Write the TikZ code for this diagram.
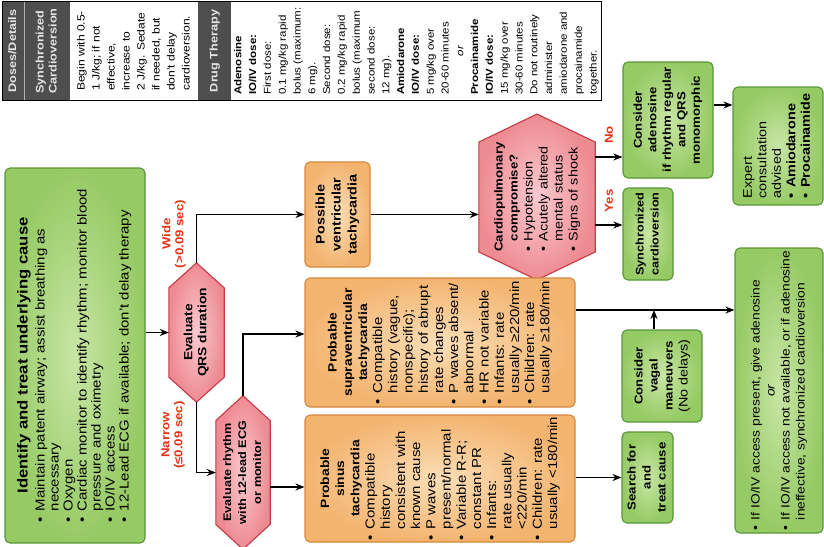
\documentclass[tikz,border=0pt]{standalone}
\usepackage{fontspec}
\setmainfont{Liberation Sans}[FakeStretch=1.15]
\usepackage{graphicx}
\usetikzlibrary{arrows.meta,calc,backgrounds}

\definecolor{gfill}{RGB}{150,202,100}
\definecolor{glight}{RGB}{200,230,165}
\definecolor{gdraw}{RGB}{88,150,55}
\definecolor{ofill}{RGB}{243,180,112}
\definecolor{olight}{RGB}{251,222,182}
\definecolor{odraw}{RGB}{214,135,58}
\definecolor{pfill}{RGB}{238,138,146}
\definecolor{plight}{RGB}{250,202,206}
\definecolor{pdraw}{RGB}{196,58,70}
\definecolor{lred}{RGB}{232,48,20}
\definecolor{hdark}{RGB}{78,78,78}

% font size shortcut
\newcommand\fsz[2]{\fontsize{#1}{#2}\selectfont}
% text turned to read upwards: font, column spec, rows
\newcommand\rtx[3]{\rotatebox{90}{#1\begin{tabular}{@{}#2@{}}#3\end{tabular}}}
\newcommand\tbul{\textbullet\hspace{0.45em}}
\newcommand\tind{\hphantom{\textbullet\hspace{0.45em}}}
% hexagon outline round a text node: node name, tip depth
\newcommand\hexround[2]{%
  \coordinate (#1T) at ($(#1.north)+(0,-#2)$);
  \coordinate (#1B) at ($(#1.south)+(0,#2)$);
  \begin{scope}[on background layer]
    \path[hexpath] (#1.north west) -- (#1T) -- (#1.north east)
      -- (#1.south east) -- (#1B) -- (#1.south west) -- cycle;
  \end{scope}}

\begin{document}
\begin{tikzpicture}[x=1pt,y=-1pt,
  box/.style={rounded corners=5pt, line width=1.1pt, inner sep=0pt},
  gbox/.style={box, draw=gdraw, inner color=glight, outer color=gfill},
  obox/.style={box, draw=odraw, inner color=olight, outer color=ofill},
  hexpath/.style={draw=pdraw, line width=1.1pt, inner color=plight, outer color=pfill},
  hexnode/.style={inner sep=0pt},
  sz/.style 2 args={minimum width=#1, minimum height=#2},
  arr/.style={line width=1.4pt, -{Stealth[length=9pt,width=7pt]}},
  lbl/.style={text=lred, font=\fsz{11.5}{13}\bfseries, align=center, rotate=90, inner sep=0pt},
  hcell/.style={fill=hdark, inner sep=0pt, text=white!90!black},
  ccell/.style={fill=white, inner sep=0pt}]

\useasboundingbox (0,0) rectangle (824,546);

% ---------- doses table ----------
\node[hcell, sz={21pt}{98pt}] (hdd) at (13.5,51)
  {\rtx{\fsz{11}{13}\bfseries}{l}{Doses/Details}};
\node[hcell, sz={45pt}{98pt}] (hsc) at (47.5,51)
  {\rtx{\fsz{11}{13}\bfseries}{l}{Synchronized\\Cardioversion}};
\node[ccell, sz={128pt}{98pt}] (csc) at (134,51)
  {\rtx{\fsz{10.5}{15}}{l}{Begin with 0.5-\\1 J/kg; if not\\effective,\\increase to\\2 J/kg. Sedate\\if needed, but\\don't delay\\cardioversion.}};
\node[hcell, sz={34pt}{98pt}] (hdt) at (215,51)
  {\rtx{\fsz{11}{13}\bfseries}{l}{Drug Therapy}};
\node[ccell, sz={368pt}{98pt}] (cdt) at (416,51)
  {\rtx{\fsz{10}{14.8}}{l}{\textbf{Adenosine}\\\textbf{IO/IV dose:}\\First dose:\\0.1 mg/kg rapid\\bolus (maximum:\\6 mg).\\Second dose:\\0.2 mg/kg rapid\\bolus (maximum\\second dose:\\12 mg).\\\textbf{Amiodarone}\\\textbf{IO/IV dose:}\\5 mg/kg over\\20-60 minutes\\\multicolumn{1}{@{}c@{}}{\textit{or}}\\\textbf{Procainamide}\\\textbf{IO/IV dose:}\\15 mg/kg over\\30-60 minutes\\Do not routinely\\administer\\amiodarone and\\procainamide\\together.}};
\draw[white!70!black, line width=1pt] (hdd.north east) -- (hdd.south east);
\draw[line width=1pt] (hdd.north west) rectangle (cdt.south east);

% ---------- first assessment ----------
\node[gbox, sz={140pt}{375pt}] (idt) at (75,355.5)
  {\rtx{\fsz{13}{14}}{l}{%
   \multicolumn{1}{@{}c@{}}{\fsz{14.5}{16}\bfseries Identify and treat underlying cause}\\[3pt]
   \tbul Maintain patent airway; assist breathing as\\
   \tind necessary\\
   \tbul Oxygen\\
   \tbul Cardiac monitor to identify rhythm; monitor blood\\
   \tind pressure and oximetry\\
   \tbul IO/IV access\\
   \tbul 12-Lead ECG if available; don't delay therapy}};

% ---------- decisions ----------
\node[hexnode, sz={55pt}{81pt}] (qrs) at (196.5,332.5)
  {\rtx{\fsz{12}{14}\bfseries}{c}{Evaluate\\QRS duration}};
\hexround{qrs}{25}

\node[hexnode, sz={54pt}{95pt}] (rhy) at (243,472.5)
  {\rtx{\fsz{11}{15}\bfseries}{c}{Evaluate rhythm\\with 12-lead ECG\\or monitor}};
\hexround{rhy}{25}

\node[lbl] (wide) at (174,234) {Wide\\(>0.09 sec)};
\node[lbl] (narrow) at (173,435) {Narrow\\(≤0.09 sec)};

% ---------- rhythm categories ----------
\node[obox, sz={65pt}{105pt}] (pvt) at (337.5,214.5)
  {\rtx{\fsz{12.5}{16}\bfseries}{c}{Possible\\ventricular\\tachycardia}};

\node[obox, sz={270pt}{129pt}] (svt) at (440,342.5)
  {\rtx{\fsz{13}{15.2}}{l}{%
   \multicolumn{1}{@{}c@{}}{\fsz{12}{15}\bfseries Probable}\\
   \multicolumn{1}{@{}c@{}}{\fsz{12}{15}\bfseries supraventricular}\\
   \multicolumn{1}{@{}c@{}}{\fsz{12}{15}\bfseries tachycardia}\\
   \tbul Compatible\\
   \tind history (vague,\\
   \tind nonspecific);\\
   \tind history of abrupt\\
   \tind rate changes\\
   \tbul P waves absent/\\
   \tind abnormal\\
   \tbul HR not variable\\
   \tbul Infants: rate\\
   \tind usually ≥220/min\\
   \tbul Children: rate\\
   \tind usually ≥180/min}};

\node[obox, sz={270pt}{127pt}] (sin) at (440,478.5)
  {\rtx{\fsz{13}{15.2}}{l}{%
   \multicolumn{1}{@{}c@{}}{\fsz{12}{15}\bfseries Probable}\\
   \multicolumn{1}{@{}c@{}}{\fsz{12}{15}\bfseries sinus}\\
   \multicolumn{1}{@{}c@{}}{\fsz{12}{15}\bfseries tachycardia}\\
   \tbul Compatible\\
   \tind history\\
   \tind consistent with\\
   \tind known cause\\
   \tbul P waves\\
   \tind present/normal\\
   \tbul Variable R-R;\\
   \tind constant PR\\
   \tbul Infants:\\
   \tind rate usually\\
   \tind <220/min\\
   \tbul Children: rate\\
   \tind usually <180/min}};

\node[hexnode, sz={116pt}{100pt}] (cp) at (537,197)
  {\rtx{\fsz{12.5}{15}}{l}{%
   {\fsz{11.5}{15}\bfseries Cardiopulmonary}\\
   \tind{\fsz{11.5}{15}\bfseries compromise?}\\
   \tbul Hypotension\\
   \tbul Acutely altered\\
   \tind mental status\\
   \tbul Signs of shock}};
\hexround{cp}{28}

\node[lbl] (no) at (609,135) {No};
\node[lbl] (yes) at (609,201) {Yes};

% ---------- treatments ----------
\node[gbox, sz={90pt}{116pt}] (ade) at (668,120)
  {\rtx{\fsz{11.5}{14.5}\bfseries}{c}{Consider\\adenosine\\if rhythm regular\\and QRS\\monomorphic}};
\node[gbox, sz={50pt}{92pt}] (sync) at (648,234)
  {\rtx{\fsz{11}{15}\bfseries}{c}{Synchronized\\cardioversion}};
\node[gbox, sz={90pt}{118pt}] (exp) at (778,146)
  {\rtx{\fsz{12.5}{14.5}}{l}{Expert\\consultation\\advised\\\textbf{\tbul Amiodarone}\\\textbf{\tbul Procainamide}}};
\node[gbox, sz={80pt}{92pt}] (vag) at (662,376)
  {\rtx{\fsz{11.5}{15}}{c}{\textbf{Consider}\\\textbf{vagal}\\\textbf{maneuvers}\\{\fsz{12.5}{15}(No delays)}}};
\node[gbox, sz={51pt}{91pt}] (srch) at (647.5,477.5)
  {\rtx{\fsz{11.5}{15}\bfseries}{c}{Search for\\and\\treat cause}};
\node[gbox, sz={88pt}{285pt}] (act) at (779,390.5)
  {\rtx{\fsz{12}{15}}{l}{%
   \tbul If IO/IV access present, give adenosine\\
   \multicolumn{1}{@{}c@{}}{\textit{or}}\\
   \tbul If IO/IV access not available, or if adenosine\\
   \tind ineffective, synchronized cardioversion}};

% ---------- connectors ----------
\draw[arr] (qrs.west -| idt.east) -- (qrs.west);
\draw[arr] (qrsT) |- (pvt.west);
\draw[arr] (qrsB) |- (rhy.west);
\draw[arr] (rhyT) |- ([yshift=8.5pt]svt.west);
\draw[arr] ([yshift=-14.5pt]rhy.east) -- ([yshift=-14.5pt]rhy.east -| sin.west);
\draw[arr] (pvt.east) -- (pvt.east -| cp.west);
\draw[arr] ([yshift=40pt]cp.east) -- ([yshift=40pt]cp.east -| ade.west);
\draw[arr] ([yshift=-28pt]cp.east) -- ([yshift=-28pt]cp.east -| sync.west);
\draw[arr] ([yshift=15pt]ade.east) -- ([yshift=15pt]ade.east -| exp.west);
\coordinate (svtout) at ([yshift=32.5pt]svt.east);
\draw[arr] (svtout) -- (svtout -| act.west);
\draw[arr] ([xshift=-8pt]vag.north) -- ([xshift=-8pt]vag.north |- svtout);
\draw[arr] (srch.west -| sin.east) -- (srch.west);
\end{tikzpicture}
\end{document}
